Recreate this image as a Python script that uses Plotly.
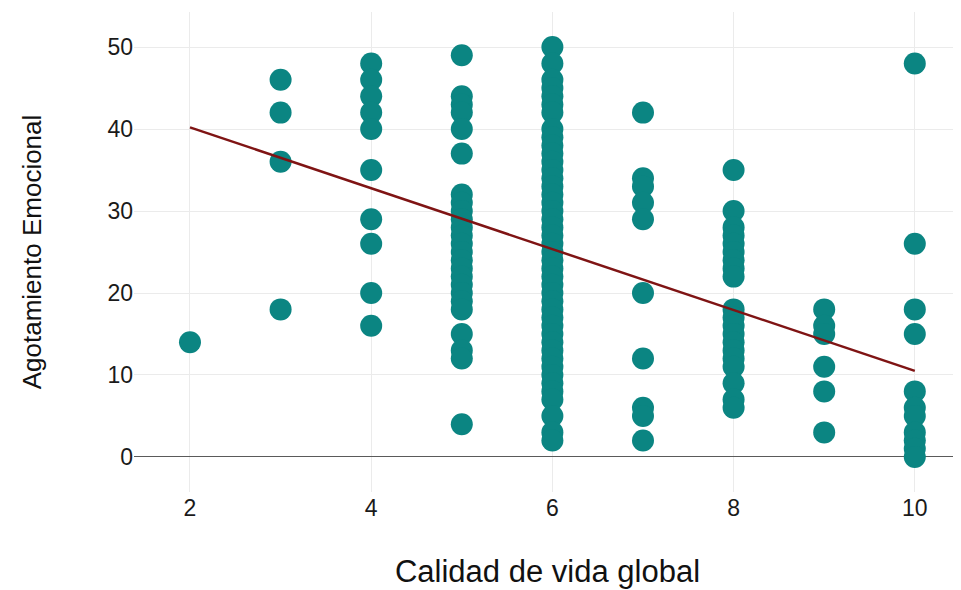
import plotly.graph_objects as go

# Data
calidad_2 = [14]
calidad_3 = [46, 42, 36, 18]
calidad_4 = [48, 46, 44, 42, 40, 35, 29, 26, 20, 16]
calidad_5 = [49, 44, 43, 42, 40, 37, 32, 31, 30, 29, 28, 27, 26, 25, 24, 23, 22, 21,
             20, 19, 18, 15, 13, 12, 4]
calidad_6 = [50, 48, 46, 45, 44, 43, 42, 40, 39, 38, 37, 36, 35, 34, 33, 32, 31, 30,
             29, 28, 27, 26, 25, 24, 23, 22, 21, 20, 19, 18, 17, 16, 15, 14, 13, 12,
             11, 10, 9, 8, 7, 5, 3, 2]
calidad_7 = [42, 34, 33, 31, 29, 20, 12, 6, 5, 2]
calidad_8 = [35, 30, 28, 27, 26, 25, 24, 23, 22, 18, 17, 16, 15, 14, 13, 12, 11, 9, 7, 6]
calidad_9 = [18, 16, 15, 11, 8, 3]
calidad_10 = [48, 26, 18, 15, 8, 6, 5, 3, 2, 1, 0]

groups = {2: calidad_2, 3: calidad_3, 4: calidad_4, 5: calidad_5, 6: calidad_6,
          7: calidad_7, 8: calidad_8, 9: calidad_9, 10: calidad_10}

# Fitted regression line
fit_x = [2, 10]
fit_y = [40.2, 10.5]

x_ticks = [2, 4, 6, 8, 10]
y_ticks = [0, 10, 20, 30, 40, 50]

xs, ys = [], []
for k, vals in groups.items():
    xs.extend([k] * len(vals))
    ys.extend(vals)

fig = go.Figure()
fig.add_trace(go.Scatter(
    x=xs, y=ys, mode="markers",
    marker=dict(color="#0b8582", size=22, line=dict(width=0)),
    showlegend=False, hoverinfo="x+y",
))
fig.add_trace(go.Scatter(
    x=fit_x, y=fit_y, mode="lines",
    line=dict(color="#7f1414", width=2.5),
    showlegend=False,
))

font_family = "Liberation Sans, Arial, sans-serif"
fig.update_layout(
    width=961, height=590,
    margin=dict(l=126, r=8, t=4, b=106),
    paper_bgcolor="white", plot_bgcolor="white",
    font=dict(family=font_family, color="#1a1a1a"),
    xaxis=dict(
        range=[1.382, 10.51],
        tickvals=x_ticks, ticktext=[str(v) for v in x_ticks],
        showgrid=True, gridcolor="#ebebeb", gridwidth=1.2,
        zeroline=False, showline=False, ticks="",
        tickfont=dict(size=23, color="#1a1a1a"),
        title=dict(text="Calidad de vida global", font=dict(size=31, color="#111"), standoff=40),
    ),
    yaxis=dict(
        range=[-4.27, 54.27],
        tickvals=y_ticks, ticktext=[str(v) for v in y_ticks],
        showgrid=True, gridcolor="#ebebeb", gridwidth=1.2,
        zeroline=True, zerolinecolor="#5a5a5a", zerolinewidth=1.2,
        showline=False, ticks="",
        tickfont=dict(size=23, color="#1a1a1a"),
        title=dict(text="Agotamiento Emocional",
                   font=dict(size=26, color="#111"),
                   standoff=58),
    ),
)

fig.write_html("out.html")
